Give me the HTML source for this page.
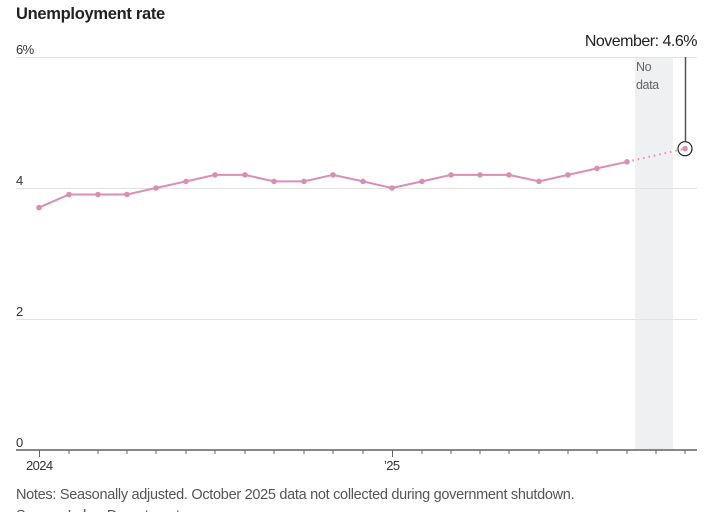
<!DOCTYPE html>
<html><head><style>
body{margin:0;background:#fff;width:706px;height:512px;overflow:hidden;font-family:"Liberation Sans",sans-serif;}
</style></head><body>
<svg width="706" height="512" xmlns="http://www.w3.org/2000/svg" font-family="Liberation Sans, sans-serif">
<text x="16" y="19" font-size="16.5" font-weight="bold" fill="#222" letter-spacing="-0.3">Unemployment rate</text>
<rect x="635" y="57" width="38" height="393" fill="#eff0f2"/>
<g stroke="#e2e2e2" stroke-width="1">
<line x1="16" x2="697" y1="57.5" y2="57.5"/>
<line x1="16" x2="697" y1="188.5" y2="188.5"/>
<line x1="16" x2="697" y1="319.5" y2="319.5"/>
</g>
<g font-size="13" fill="#333" letter-spacing="-0.6">
<text x="16" y="54">6%</text>
<text x="16" y="185">4</text>
<text x="16" y="316">2</text>
<text x="16" y="447">0</text>
</g>
<line x1="16" x2="697" y1="450" y2="450" stroke="#888" stroke-width="2"/>
<g stroke="#666" stroke-width="1">
<line x1="39.5" x2="39.5" y1="450" y2="457"/><line x1="392.5" x2="392.5" y1="450" y2="457"/>
<line x1="69" x2="69" y1="450" y2="454"/><line x1="98" x2="98" y1="450" y2="454"/><line x1="127" x2="127" y1="450" y2="454"/><line x1="156" x2="156" y1="450" y2="454"/><line x1="186" x2="186" y1="450" y2="454"/><line x1="215" x2="215" y1="450" y2="454"/><line x1="245" x2="245" y1="450" y2="454"/><line x1="274" x2="274" y1="450" y2="454"/><line x1="304" x2="304" y1="450" y2="454"/><line x1="333" x2="333" y1="450" y2="454"/><line x1="363" x2="363" y1="450" y2="454"/><line x1="422" x2="422" y1="450" y2="454"/><line x1="451" x2="451" y1="450" y2="454"/><line x1="480" x2="480" y1="450" y2="454"/><line x1="509" x2="509" y1="450" y2="454"/><line x1="539" x2="539" y1="450" y2="454"/><line x1="568" x2="568" y1="450" y2="454"/><line x1="597" x2="597" y1="450" y2="454"/><line x1="627" x2="627" y1="450" y2="454"/><line x1="656" x2="656" y1="450" y2="454"/><line x1="685" x2="685" y1="450" y2="454"/>
</g>
<g font-size="13" fill="#333" letter-spacing="-0.6">
<text x="26" y="470">2024</text>
<text x="384" y="470">’25</text>
</g>
<text x="636" y="71" font-size="12.5" fill="#666" letter-spacing="-0.4">No</text>
<text x="636" y="89" font-size="12.5" fill="#666" letter-spacing="-0.4">data</text>
<polyline fill="none" stroke="#d98fb5" stroke-width="2" points="39,207.6 69,194.5 98,194.5 127,194.5 156,188 186,181.4 215,174.9 245,174.9 274,181.4 304,181.4 333,174.9 363,181.4 392,188 422,181.4 451,174.9 480,174.9 509,174.9 539,181.4 568,174.9 597,168.4 627,161.8"/>
<line x1="627" y1="161.8" x2="685" y2="148.7" stroke="#d98fb5" stroke-width="2" stroke-dasharray="1.5,4"/>
<g fill="#d98fb5">
<circle cx="39" cy="207.6" r="2.8"/><circle cx="69" cy="194.5" r="2.8"/><circle cx="98" cy="194.5" r="2.8"/><circle cx="127" cy="194.5" r="2.8"/><circle cx="156" cy="188" r="2.8"/><circle cx="186" cy="181.4" r="2.8"/><circle cx="215" cy="174.9" r="2.8"/><circle cx="245" cy="174.9" r="2.8"/><circle cx="274" cy="181.4" r="2.8"/><circle cx="304" cy="181.4" r="2.8"/><circle cx="333" cy="174.9" r="2.8"/><circle cx="363" cy="181.4" r="2.8"/><circle cx="392" cy="188" r="2.8"/><circle cx="422" cy="181.4" r="2.8"/><circle cx="451" cy="174.9" r="2.8"/><circle cx="480" cy="174.9" r="2.8"/><circle cx="509" cy="174.9" r="2.8"/><circle cx="539" cy="181.4" r="2.8"/><circle cx="568" cy="174.9" r="2.8"/><circle cx="597" cy="168.4" r="2.8"/><circle cx="627" cy="161.8" r="2.8"/><circle cx="685" cy="148.7" r="2.8"/>
</g>
<line x1="685.5" y1="57" x2="685.5" y2="141" stroke="#555" stroke-width="1.5"/>
<circle cx="685" cy="148.7" r="7" fill="none" stroke="#222" stroke-width="1.2"/>
<text x="697" y="46" font-size="16" fill="#222" text-anchor="end" letter-spacing="-0.5">November: 4.6%</text>
<text x="16" y="499" font-size="14.5" fill="#555" letter-spacing="-0.3">Notes: Seasonally adjusted. October 2025 data not collected during government shutdown.</text>
<text x="16" y="520" font-size="14.5" fill="#555" letter-spacing="-0.3">Source: Labor Department</text>
</svg>
</body></html>
